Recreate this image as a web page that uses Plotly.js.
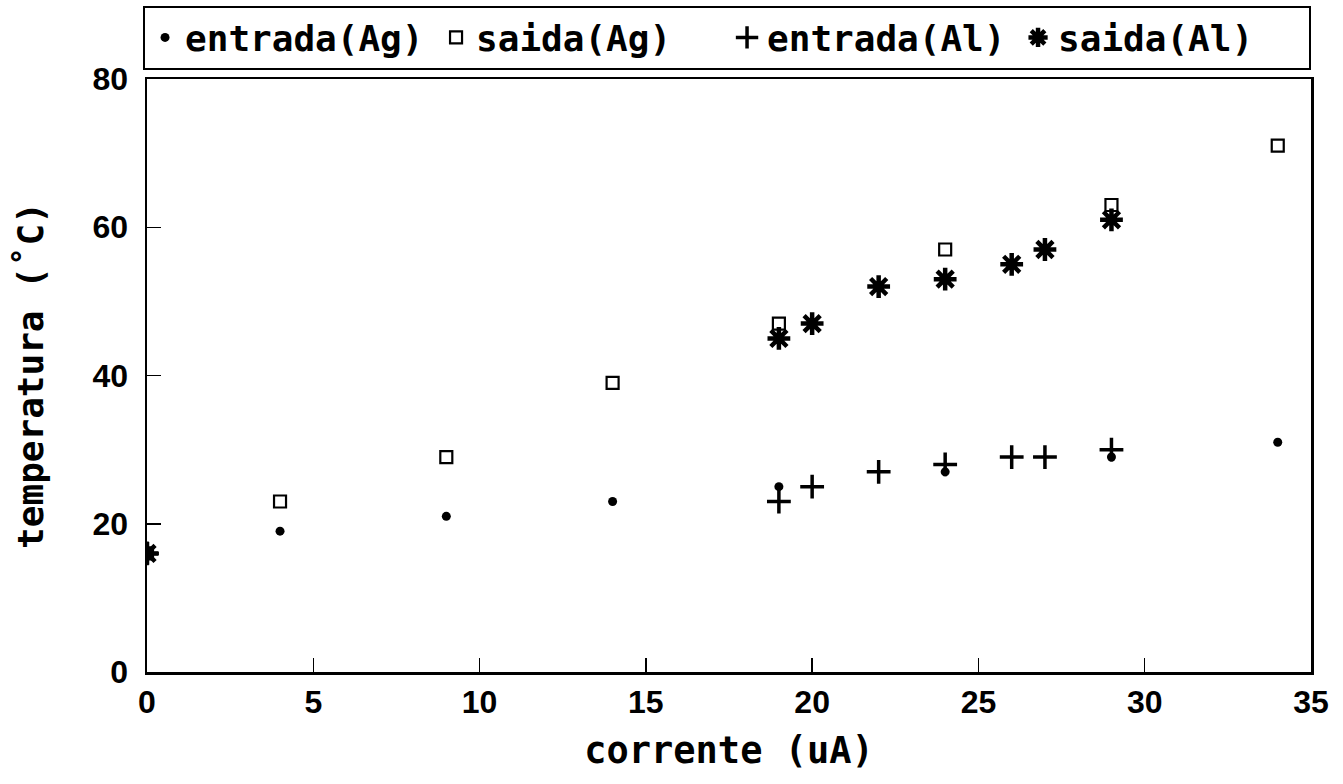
<!DOCTYPE html>
<html><head><meta charset="utf-8">
<script src="https://cdn.plot.ly/plotly-3.0.1.min.js"></script>
<style>html,body{margin:0;padding:0;background:#fff}#chart{width:1343px;height:784px}</style>
</head><body><div id="chart"></div>
<script>
const entradaAgX = [0, 4, 9, 14, 19, 24, 29, 34];
const entradaAgY = [16, 19, 21, 23, 25, 27, 29, 31];
const saidaAgX = [0, 4, 9, 14, 19, 24, 29, 34];
const saidaAgY = [16, 23, 29, 39, 47, 57, 63, 71];
const entradaAlX = [0, 19, 20, 22, 24, 26, 27, 29];
const entradaAlY = [16, 23, 25, 27, 28, 29, 29, 30];
const saidaAlX = [0, 19, 20, 22, 24, 26, 27, 29];
const saidaAlY = [16, 45, 47, 52, 53, 55, 57, 61];
const seriesNames = ['entrada(Ag)', 'saida(Ag)', 'entrada(Al)', 'saida(Al)'];
const xTicks = [0, 5, 10, 15, 20, 25, 30, 35];
const yTicks = [0, 20, 40, 60, 80];

const mono = 'DejaVu Sans Mono, monospace';
const sans = 'Liberation Sans, Arial, sans-serif';
const traces = [
  {x: entradaAgX, y: entradaAgY, name: seriesNames[0], mode: 'markers', type: 'scatter',
   marker: {symbol: 'circle', size: 9, color: '#000'}},
  {x: saidaAgX, y: saidaAgY, name: seriesNames[1], mode: 'markers', type: 'scatter',
   marker: {symbol: 'square-open', size: 12, color: '#000', line: {width: 2.2, color: '#000'}}},
  {x: entradaAlX, y: entradaAlY, name: seriesNames[2], mode: 'markers', type: 'scatter',
   marker: {symbol: 'cross-thin-open', size: 17, color: '#000', line: {width: 3.5, color: '#000'}}},
  {x: saidaAlX, y: saidaAlY, name: seriesNames[3], mode: 'markers', type: 'scatter',
   marker: {symbol: 'asterisk-open', size: 19, color: '#000', line: {width: 4.5, color: '#000'}}}
];

const layout = {
  width: 1343, height: 784,
  margin: {l: 147, r: 32, t: 79, b: 112, autoexpand: false},
  paper_bgcolor: '#fff', plot_bgcolor: '#fff',
  showlegend: true,
  legend: {orientation: 'h', x: -0.0034, xanchor: 'left', y: 1.016, yanchor: 'bottom',
    bordercolor: '#000', borderwidth: 2, bgcolor: '#fff',
    font: {family: mono, size: 36, color: '#000', weight: 'bold'},
    itemwidth: 30, tracegroupgap: 0, entrywidth: 246, entrywidthmode: 'pixels'},
  xaxis: {range: [0, 35], tickvals: xTicks, ticktext: xTicks.map(String),
    ticks: 'inside', ticklen: 14, tickwidth: 1.5, tickcolor: '#000',
    showline: true, linecolor: '#000', linewidth: 2.5, mirror: true,
    showgrid: false, zeroline: false, ticklabelstandoff: 0,
    tickfont: {family: sans, size: 32, color: '#000', weight: 'bold'},
    title: {text: 'corrente (uA)', standoff: 18, font: {family: mono, size: 37, color: '#000', weight: 'bold'}}},
  yaxis: {range: [0, 80], tickvals: yTicks, ticktext: yTicks.map(String),
    ticks: 'inside', ticklen: 14, tickwidth: 1.5, tickcolor: '#000',
    showline: true, linecolor: '#000', linewidth: 2.5, mirror: true,
    showgrid: false, zeroline: false, ticklabelstandoff: 10,
    tickfont: {family: sans, size: 32, color: '#000', weight: 'bold'},
    title: {text: 'temperatura (˚C)', standoff: 38, font: {family: mono, size: 36, color: '#000', weight: 'bold'}}}
};

Plotly.newPlot('chart', traces, layout, {displayModeBar: false, staticPlot: true});
</script></body></html>
